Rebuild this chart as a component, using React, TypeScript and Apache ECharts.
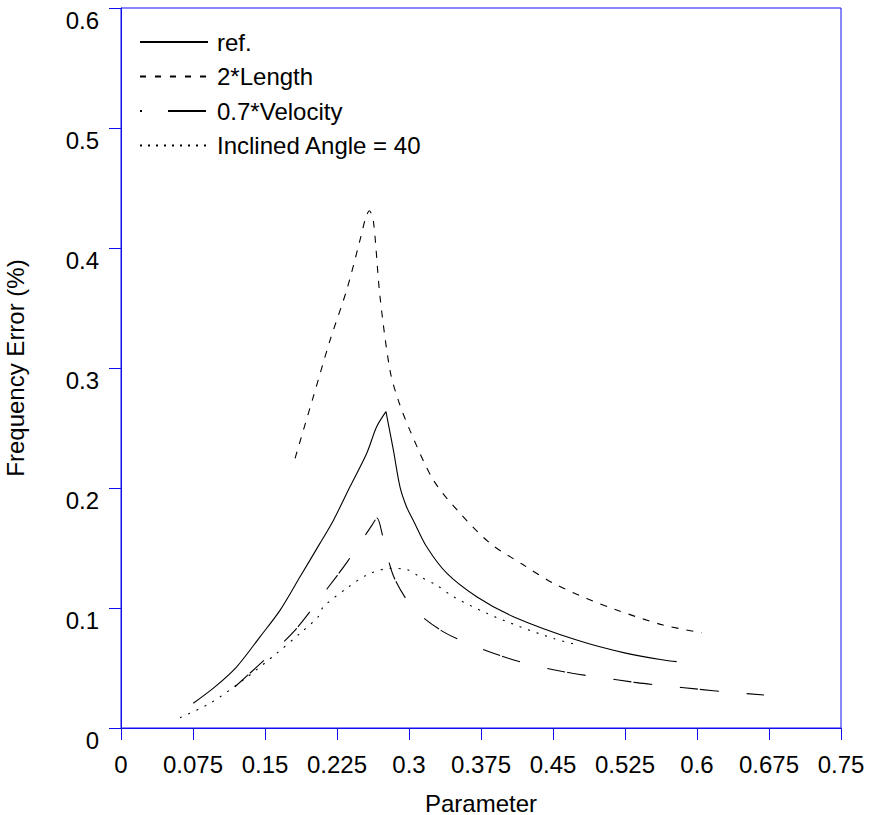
import React, { useEffect, useRef } from "react";
import * as echarts from "echarts";

const seriesNames = ["ref.", "2*Length", "0.7*Velocity", "Inclined Angle = 40"];

// ref. curve: rising branch up to the sharp peak, then falling branch
const refRise: [number, number][] = [
  [0.0753, 0.0206], [0.0975, 0.034], [0.1205, 0.051], [0.1448, 0.076], [0.1656, 0.098],
  [0.1865, 0.126], [0.2066, 0.153], [0.2212, 0.173], [0.2385, 0.201], [0.256, 0.229],
  [0.2663, 0.251], [0.276, 0.2636],
];
const refFall: [number, number][] = [
  [0.276, 0.2636], [0.2837, 0.2317], [0.2906, 0.201], [0.2976, 0.184],
  [0.3045, 0.173], [0.3184, 0.151], [0.3393, 0.129], [0.3705, 0.1094], [0.4087, 0.0928],
  [0.4747, 0.0733], [0.5268, 0.0622], [0.5719, 0.0558], [0.5788, 0.0553],
];

const lengthData: [number, number][] = [
  [0.1813, 0.2247], [0.2003, 0.276], [0.2177, 0.323], [0.2351, 0.365], [0.249, 0.4067],
  [0.2552, 0.426], [0.2587, 0.431], [0.2628, 0.4233], [0.2698, 0.3594], [0.2802, 0.298],
  [0.2889, 0.273], [0.301, 0.248], [0.3253, 0.2067], [0.3531, 0.179], [0.3844, 0.154],
  [0.419, 0.136], [0.4503, 0.1206], [0.4851, 0.108], [0.5163, 0.0983], [0.5649, 0.0858],
  [0.6049, 0.0794],
];

const velocityData: [number, number][] = [
  [0.1188, 0.0344], [0.1586, 0.0636], [0.183, 0.0831], [0.2143, 0.1156], [0.2351, 0.1378],
  [0.2611, 0.1686], [0.2667, 0.175], [0.2726, 0.16], [0.283, 0.1283], [0.2976, 0.1067],
  [0.3115, 0.0942], [0.3368, 0.0797], [0.3653, 0.0692], [0.4034, 0.0581], [0.4313, 0.0519],
  [0.4701, 0.0456], [0.499, 0.0422], [0.5372, 0.0378], [0.5649, 0.0353], [0.6031, 0.0322],
  [0.6309, 0.03], [0.6698, 0.0275],
];

const angleData: [number, number][] = [
  [0.0615, 0.0086], [0.0927, 0.0206], [0.1274, 0.04], [0.1622, 0.0622], [0.1865, 0.0789],
  [0.2055, 0.0928], [0.2108, 0.101], [0.2351, 0.1164], [0.256, 0.1275], [0.2802, 0.133],
  [0.2976, 0.132], [0.3115, 0.126], [0.3288, 0.119], [0.3462, 0.1094], [0.381, 0.0956],
  [0.4156, 0.0844], [0.4503, 0.0747], [0.4719, 0.07],
];

const FONT = "'Liberation Sans', Arial, sans-serif";
const BLUE = "#1010f0";

export default function App() {
  const ref = useRef<HTMLDivElement>(null);
  useEffect(() => {
    if (!ref.current) return;
    const chart = echarts.init(ref.current, null, { renderer: "svg" });
    const fmt = (v: number) => String(parseFloat(v.toFixed(3)));
    const mk = (name: string, data: [number, number][], type: any, smooth: number) => ({
      name,
      type: "line",
      data,
      symbol: "none",
      showSymbol: false,
      smooth,
      lineStyle: { color: "#000", width: 1.1, type },
      itemStyle: { color: "#000" },
    });
    chart.setOption({
      animation: false,
      backgroundColor: "#fff",
      textStyle: { fontFamily: FONT },
      grid: {
        left: 121,
        top: 8,
        right: 30,
        bottom: 87,
        show: true,
        borderColor: BLUE,
        borderWidth: 1,
        backgroundColor: "transparent",
        outerBoundsMode: "none",
        containLabel: false,
      },
      legend: {
        orient: "vertical",
        left: 139,
        top: 30,
        padding: 0,
        itemWidth: 68,
        itemHeight: 14,
        itemGap: 10.5,
        textStyle: { fontSize: 24, color: "#000", fontFamily: FONT, padding: [0, 0, 0, 4] },
        itemStyle: { opacity: 0 },
        data: [
          { name: seriesNames[0], lineStyle: { type: "solid" } },
          { name: seriesNames[1], lineStyle: { type: [6, 9] } },
          { name: seriesNames[2], lineStyle: { type: [2, 26, 38, 100] } },
          { name: seriesNames[3], lineStyle: { type: [2, 6] } },
        ],
      },
      xAxis: {
        type: "value",
        min: 0,
        max: 0.75,
        interval: 0.075,
        name: "Parameter",
        nameLocation: "middle",
        nameGap: 63,
        nameTextStyle: { fontSize: 24, color: "#000", fontFamily: FONT },
        axisLine: { show: true, onZero: false, lineStyle: { color: BLUE, width: 1 } },
        axisTick: { show: true, length: 12, inside: false, lineStyle: { color: BLUE } },
        axisLabel: { fontSize: 24, color: "#000", margin: 24, formatter: fmt, fontFamily: FONT },
        splitLine: { show: false },
      },
      yAxis: {
        type: "value",
        min: 0,
        max: 0.6,
        interval: 0.1,
        name: "Frequency Error (%)",
        nameLocation: "middle",
        nameGap: 94,
        nameTextStyle: { fontSize: 24, color: "#000", fontFamily: FONT },
        axisLine: { show: true, onZero: false, lineStyle: { color: BLUE, width: 1 } },
        axisTick: { show: true, length: 12, inside: false, lineStyle: { color: BLUE } },
        axisLabel: {
          fontSize: 24,
          color: "#000",
          margin: 22,
          verticalAlign: "top",
          formatter: fmt,
          fontFamily: FONT,
        },
        splitLine: { show: false },
      },
      series: [
        mk(seriesNames[0], refRise, "solid", 0.3),
        mk(seriesNames[0], refFall, "solid", 0.3),
        mk(seriesNames[1], lengthData, [7, 8], 0.3),
        mk(seriesNames[2], velocityData, [18, 2, 19, 28], 0.3),
        mk(seriesNames[3], angleData, [2, 7], 0.3),
      ],
    });
    return () => chart.dispose();
  }, []);
  return (
    <div
      ref={ref}
      style={{ position: "fixed", left: 0, top: 0, width: 871, height: 815, background: "#fff" }}
    />
  );
}
